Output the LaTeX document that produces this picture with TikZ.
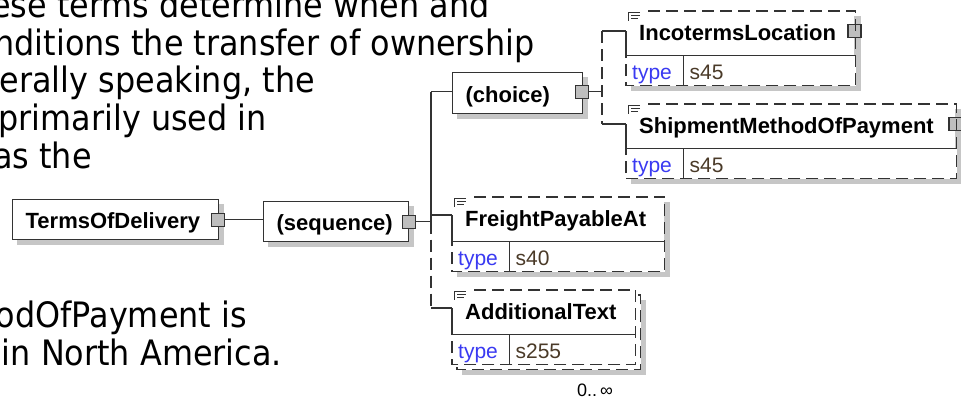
\documentclass[tikz,border=0pt]{standalone}
\usepackage{fontspec}
\setmainfont{Liberation Sans}
\newfontfamily\notefont[FakeStretch=0.91]{DejaVu Sans}
\usetikzlibrary{backgrounds}

\definecolor{edgegray}{HTML}{333333}
\definecolor{shadegray}{HTML}{C6C6C6}
\definecolor{knobgray}{HTML}{BEBEBE}
\definecolor{typeblue}{HTML}{3A3AF2}
\definecolor{typebrown}{HTML}{4A3A28}

\tikzset{
  conn/.style={draw=edgegray, line width=1.3pt},
  optline/.style={conn, dash pattern=on 12pt off 6pt},
  note/.style={font=\notefont\fontsize{35}{38}\selectfont, inner sep=0pt, anchor=base east},
  compbox/.style={draw=edgegray, line width=1.3pt, fill=white, minimum height=40pt,
    align=left, inner xsep=13pt, inner ysep=0pt, text height=20pt, text depth=2pt,
    font=\fontsize{22}{24}\selectfont\bfseries, anchor=north west},
  elemname/.style={fill=white, minimum height=44pt, align=left, inner xsep=13pt,
    inner ysep=0pt, text height=17pt, text depth=3pt,
    font=\fontsize{22}{24}\selectfont\bfseries, anchor=north west},
  typekey/.style={fill=white, minimum height=30pt, align=left, inner xsep=6pt,
    inner ysep=0pt, text height=18pt, text depth=1pt, text width=45pt,
    text=typeblue, font=\fontsize{21}{23}\selectfont, anchor=north west},
  typeval/.style={typekey, text width=#1, text=typebrown},
  knob/.style={draw=edgegray, fill=knobgray, line width=1.2pt, minimum size=13pt, inner sep=0pt},
  docicon/.style={draw=edgegray, line width=1pt}
}

\begin{document}
\begin{tikzpicture}[x=1pt, y=-1pt]
  \useasboundingbox (0,0) rectangle (961,400);

  % Text of the page behind the diagram
  \begin{scope}
    \clip (0,0) rectangle (961,400);
    \node[note] (n1) at (490,17) {ese terms determine when and};
    \node[note] (n2) at (535,55) {nditions the transfer of ownership};
    \node[note] (n3) at (315,92) {erally speaking, the};
    \node[note] (n4) at (267,130) {primarily used in};
    \node[note] (n5) at (92,168) {as the};
    \node[note] (n6) at (247,327) {odOfPayment is};
    \node[note] (n7) at (282,365) {in North America.};
  \end{scope}

  % Compositor boxes
  \node[compbox, text width=180pt] (tod) at (12,199) {TermsOfDelivery};
  \node[compbox, text width=119pt] (seq) at (263,201) {(sequence)};
  \node[compbox, text width=104pt, minimum height=41pt] (cho) at (452,72) {(choice)};
  \node[knob] (todsq) at ([xshift=-1pt]tod.east) {};
  \node[knob] (seqsq) at (seq.east) {};
  \node[knob] (chosq) at ([xshift=-1.5pt,yshift=1.5pt]cho.east) {};

  % Elements
  \node[elemname, text width=202pt] (inc) at (626,11) {IncotermsLocation};
  \node[typekey] (inckey) at (inc.south west) {type};
  \node[typeval=160pt] (incval) at (inckey.north east) {s45};

  \node[elemname, text width=303pt] (shp) at (626,104) {ShipmentMethodOfPayment};
  \node[typekey] (shpkey) at (shp.south west) {type};
  \node[typeval=261pt] (shpval) at (shpkey.north east) {s45};

  \node[elemname, text width=186pt] (frt) at (452,197) {FreightPayableAt};
  \node[typekey] (frtkey) at (frt.south west) {type};
  \node[typeval=143pt] (frtval) at (frtkey.north east) {s40};

  \node[elemname, text width=157pt] (add) at (452,290) {AdditionalText};
  \node[typekey] (addkey) at (add.south west) {type};
  \node[typeval=114pt] (addval) at (addkey.north east) {s255};

  % Where connectors meet the element boxes
  \coordinate (incin) at ([yshift=-20pt]inc.north west);
  \coordinate (shpin) at ([yshift=-20pt]shp.north west);
  \coordinate (frtin) at ([yshift=-18pt]frt.north west);
  \coordinate (addin) at ([yshift=-18pt]add.north west);
  \coordinate (spt) at ([xshift=-21pt]chosq.east -| cho.west);
  \coordinate (csp) at ([xshift=-24pt]incin);

  \node[knob] (incsq) at (incin -| inc.east) {};
  \node[knob] (shpsq) at (shpin -| shp.east) {};

  % Outlines of the element boxes
  \foreach \e in {inc,shp,frt,add} {
    \draw[optline] ([xshift=22pt]\e.north west) -| (\e val.south east) -| (\e key.north west);
    \draw[conn] (\e.south west) -- (\e val.north east);
    \draw[conn] (\e key.north east) -- (\e key.south east);
    \draw[conn] (\e in) -- (\e.south west);
    % documentation icon
    \draw[docicon] ([shift={(2pt,-1pt)}]\e.north west) -- ++(0,9)
      ([shift={(2pt,-1pt)}]\e.north west) -- ++(12,0)
      ([shift={(5pt,-4pt)}]\e.north west) -- ++(9,0)
      ([shift={(5pt,-7pt)}]\e.north west) -- ++(7,0);
  }

  % Connectors
  \draw[conn] (todsq.east) -- (todsq.east -| seq.west);
  \draw[conn] (seqsq.east) -- (seqsq.east -| spt);
  \draw[conn] (spt) -- (spt |- seqsq.east);
  \draw[optline] (spt |- seqsq.east) -- (spt |- addin);
  \draw[conn] (spt) -- (spt -| cho.west);
  \draw[conn] (spt |- frtin) -- (frtin);
  \draw[conn] (spt |- addin) -- (addin);
  \draw[conn] (chosq.east) -- (chosq.east -| csp);
  \draw[optline] (csp) -- (csp |- shpin);
  \draw[conn] (csp) -- (incin);
  \draw[conn] (csp |- shpin) -- (shpin);

  \node[font=\fontsize{18}{18}\selectfont, anchor=base, inner sep=0pt] (addocc) at (595,396) {0..\,∞};

  % Shadows and the stacked box behind AdditionalText
  \begin{scope}[on background layer]
    \foreach \a/\b in {tod/tod, seq/seq, cho/cho, inc/incval, shp/shpval, frt/frtval} {
      \fill[shadegray] ([shift={(5pt,-5pt)}]\a.north west) rectangle ([shift={(5pt,-5pt)}]\b.south east);
    }
    \fill[shadegray] ([shift={(10pt,-10pt)}]add.north west) rectangle ([shift={(10pt,-10pt)}]addval.south east);
    \filldraw[fill=white, optline] ([shift={(5pt,-5pt)}]add.north west) rectangle ([shift={(5pt,-5pt)}]addval.south east);
  \end{scope}
\end{tikzpicture}
\end{document}
